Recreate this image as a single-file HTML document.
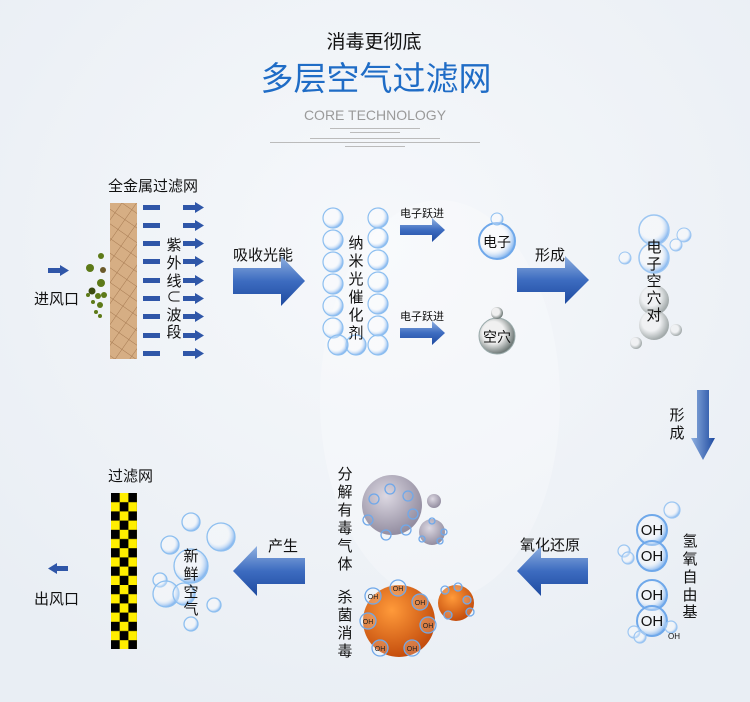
<!DOCTYPE html>
<html><head><meta charset="utf-8"><style>
body{margin:0;width:750px;height:702px;overflow:hidden;background:#eef2f7;}
svg{display:block}
text{font-family:"Liberation Sans","Noto Sans CJK SC",sans-serif;}
</style></head><body>
<svg width="750" height="702" viewBox="0 0 750 702" xmlns="http://www.w3.org/2000/svg">
<defs>
<radialGradient id="bg" cx="0.5" cy="0.35" r="0.7"><stop offset="0" stop-color="#f6f8fb"/><stop offset="1" stop-color="#e9eef4"/></radialGradient>
<linearGradient id="arr" x1="0" y1="0" x2="0" y2="1"><stop offset="0" stop-color="#8fb0e0"/><stop offset="0.5" stop-color="#3d6cc0"/><stop offset="1" stop-color="#1e4aa0"/></linearGradient>
<linearGradient id="arrv" x1="0" y1="0" x2="1" y2="0"><stop offset="0" stop-color="#8fb0e0"/><stop offset="1" stop-color="#1e4aa0"/></linearGradient>
<radialGradient id="bub" cx="0.4" cy="0.4" r="0.6"><stop offset="0.6" stop-color="#ffffff" stop-opacity="0.3"/><stop offset="1" stop-color="#7fb2ee" stop-opacity="0.9"/></radialGradient>
<radialGradient id="gray" cx="0.4" cy="0.35" r="0.7"><stop offset="0" stop-color="#dcd8e2"/><stop offset="1" stop-color="#8e889c"/></radialGradient>
<radialGradient id="org" cx="0.4" cy="0.35" r="0.7"><stop offset="0" stop-color="#ff9a3a"/><stop offset="1" stop-color="#c0480a"/></radialGradient>
<radialGradient id="gb" cx="0.4" cy="0.4" r="0.6"><stop offset="0.5" stop-color="#f0f0f0"/><stop offset="1" stop-color="#707a78"/></radialGradient>
<pattern id="grid" width="12" height="12" patternUnits="userSpaceOnUse" patternTransform="rotate(35)"><rect width="12" height="12" fill="#d6ae84"/><path d="M0 0H12M0 0V12" stroke="#a67a52" stroke-width="1"/></pattern>
<pattern id="chk" x="111" y="493" width="17.4" height="18.4" patternUnits="userSpaceOnUse"><rect width="17.4" height="18.4" fill="#ffee00"/><rect width="8.7" height="9.2" fill="#000"/><rect x="8.7" y="9.2" width="8.7" height="9.2" fill="#000"/></pattern>
<g id="b"><circle r="10" fill="url(#bub)" stroke="#8dbff0" stroke-width="1.2"/></g>
</defs>
<rect width="750" height="702" fill="url(#bg)"/>
<ellipse cx="440" cy="400" rx="120" ry="200" fill="#ffffff" opacity="0.25"/>

<text x="374" y="48" font-size="19" text-anchor="middle" fill="#111">消毒更彻底</text>
<text x="376" y="90" font-size="33" text-anchor="middle" fill="#1f6cc6">多层空气过滤网</text>
<text x="375" y="120" font-size="14" text-anchor="middle" fill="#9a9a9a">CORE TECHNOLOGY</text>
<g fill="#bbb"><rect x="330" y="128" width="90" height="1"/><rect x="350" y="132" width="50" height="1"/><rect x="310" y="138" width="130" height="1"/><rect x="270" y="142" width="210" height="1"/><rect x="345" y="146" width="60" height="1"/></g>

<text x="108" y="191" font-size="15" fill="#111">全金属过滤网</text>
<rect x="110" y="203" width="27" height="156" fill="url(#grid)"/>
<g fill="#2f56a8">
<rect x="143" y="205" width="17" height="5"/><rect x="143" y="223" width="17" height="5"/><rect x="143" y="241" width="17" height="5"/><rect x="143" y="259" width="17" height="5"/><rect x="143" y="278" width="17" height="5"/><rect x="143" y="296" width="17" height="5"/><rect x="143" y="314" width="17" height="5"/><rect x="143" y="333" width="17" height="5"/><rect x="143" y="351" width="17" height="5"/>
</g>
<g fill="#2f56a8" id="sa">
<path d="M183 205h12v-3l9 5.5-9 5.5v-3h-12z"/>
</g>
<use href="#sa" y="18"/><use href="#sa" y="36"/><use href="#sa" y="54"/><use href="#sa" y="73"/><use href="#sa" y="91"/><use href="#sa" y="109"/><use href="#sa" y="128"/><use href="#sa" y="146"/>
<g font-size="15" fill="#111" text-anchor="middle"><text x="174" y="250">紫</text><text x="174" y="268">外</text><text x="174" y="286">线</text><text x="174" y="302">⊂</text><text x="174" y="320">波</text><text x="174" y="337">段</text></g>
<path d="M48 268h12v-3l9 5.5-9 5.5v-3h-12z" fill="#2f56a8"/>
<text x="34" y="304" font-size="15" fill="#111">进风口</text>
<g fill="#5d7a18"><circle cx="90" cy="268" r="4"/><circle cx="101" cy="256" r="3"/><circle cx="103" cy="270" r="3" fill="#6b5a2a"/><circle cx="101" cy="283" r="4"/><circle cx="92" cy="291" r="3.5" fill="#3a4a10"/><circle cx="98" cy="296" r="3"/><circle cx="104" cy="295" r="3"/><circle cx="93" cy="302" r="2"/><circle cx="100" cy="305" r="3"/><circle cx="96" cy="312" r="2"/><circle cx="100" cy="316" r="2"/><circle cx="88" cy="295" r="2"/></g>

<text x="233" y="260" font-size="15" fill="#111">吸收光能</text>
<path d="M233 268h48v-12l24 25-24 25v-12h-48z" fill="url(#arr)"/>

<g>
<use href="#b" x="333" y="218"/><use href="#b" x="378" y="218"/>
<use href="#b" x="333" y="240"/><use href="#b" x="378" y="238"/>
<use href="#b" x="333" y="262"/><use href="#b" x="378" y="260"/>
<use href="#b" x="333" y="284"/><use href="#b" x="378" y="282"/>
<use href="#b" x="333" y="306"/><use href="#b" x="378" y="304"/>
<use href="#b" x="333" y="328"/><use href="#b" x="378" y="326"/>
<use href="#b" x="356" y="345"/><use href="#b" x="378" y="345"/><use href="#b" x="338" y="345"/>
</g>
<g font-size="15" fill="#111" text-anchor="middle"><text x="356" y="248">纳</text><text x="356" y="266">米</text><text x="356" y="284">光</text><text x="356" y="302">催</text><text x="356" y="320">化</text><text x="356" y="338">剂</text></g>

<text x="400" y="217" font-size="11" fill="#111">电子跃进</text>
<path d="M400 225h32v-7l13 12-13 12v-7h-32z" fill="url(#arr)"/>
<text x="400" y="320" font-size="11" fill="#111">电子跃进</text>
<path d="M400 328h32v-7l13 12-13 12v-7h-32z" fill="url(#arr)"/>
<circle cx="497" cy="241" r="18" fill="url(#bub)" stroke="#6fa8ea" stroke-width="2"/>
<circle cx="497" cy="219" r="6" fill="url(#bub)" stroke="#8dbff0"/>
<text x="497" y="247" font-size="14" text-anchor="middle" fill="#111">电子</text>
<circle cx="497" cy="336" r="18" fill="url(#gb)" stroke="#9aa" stroke-width="1"/>
<circle cx="497" cy="313" r="6" fill="url(#gb)"/>
<text x="497" y="342" font-size="14" text-anchor="middle" fill="#111">空穴</text>

<text x="535" y="260" font-size="15" fill="#111">形成</text>
<path d="M517 268h48v-12l24 24-24 24v-12h-48z" fill="url(#arr)"/>

<g>
<circle cx="654" cy="230" r="15" fill="url(#bub)" stroke="#9cc6f2" stroke-width="1.5"/>
<circle cx="654" cy="258" r="15" fill="url(#bub)" stroke="#9cc6f2" stroke-width="1.5"/>
<circle cx="654" cy="300" r="15" fill="url(#gb)" opacity="0.6"/>
<circle cx="654" cy="325" r="15" fill="url(#gb)" opacity="0.6"/>
<circle cx="684" cy="235" r="7" fill="url(#bub)" stroke="#9cc6f2"/><circle cx="676" cy="245" r="6" fill="url(#bub)" stroke="#9cc6f2"/>
<circle cx="625" cy="258" r="6" fill="url(#bub)" stroke="#9cc6f2"/>
<circle cx="676" cy="330" r="6" fill="url(#gb)" opacity="0.6"/><circle cx="636" cy="343" r="6" fill="url(#gb)" opacity="0.6"/>
</g>
<g font-size="15" fill="#111" text-anchor="middle"><text x="654" y="252">电</text><text x="654" y="269">子</text><text x="654" y="286">空</text><text x="654" y="303">穴</text><text x="654" y="320">对</text></g>

<text x="677" y="420" font-size="15" text-anchor="middle" fill="#111">形</text><text x="677" y="438" font-size="15" text-anchor="middle" fill="#111">成</text>
<path d="M697 390h12v48h6l-12 22-12-22h6z" fill="url(#arrv)"/>

<g fill="url(#bub)" stroke="#6fa8ea" stroke-width="2">
<circle cx="652" cy="530" r="15"/><circle cx="652" cy="556" r="15"/><circle cx="652" cy="595" r="15"/><circle cx="652" cy="621" r="15"/>
</g>
<g fill="url(#bub)" stroke="#9cc6f2" stroke-width="1.2"><circle cx="672" cy="510" r="8"/><circle cx="624" cy="551" r="6"/><circle cx="628" cy="558" r="6"/><circle cx="671" cy="627" r="6"/><circle cx="634" cy="632" r="6"/><circle cx="640" cy="637" r="6"/></g>
<g font-size="15" fill="#111" text-anchor="middle"><text x="652" y="535">OH</text><text x="652" y="561">OH</text><text x="652" y="600">OH</text><text x="652" y="626">OH</text><text x="674" y="639" font-size="8">OH</text></g>
<g font-size="15" fill="#111" text-anchor="middle"><text x="690" y="546">氢</text><text x="690" y="564">氧</text><text x="690" y="582">自</text><text x="690" y="600">由</text><text x="690" y="617">基</text></g>

<text x="520" y="550" font-size="15" fill="#111">氧化还原</text>
<path d="M588 558h-47v-12l-24 25 24 25v-12h47z" fill="url(#arr)"/>

<circle cx="392" cy="505" r="30" fill="url(#gray)"/>
<circle cx="434" cy="501" r="7" fill="url(#gray)"/>
<circle cx="432" cy="532" r="13" fill="url(#gray)"/>
<g fill="none" stroke="#6fa8ea" stroke-width="1.3"><circle cx="390" cy="489" r="5"/><circle cx="408" cy="496" r="5"/><circle cx="413" cy="514" r="5"/><circle cx="406" cy="530" r="5"/><circle cx="386" cy="535" r="5"/><circle cx="368" cy="520" r="5"/><circle cx="374" cy="499" r="5"/>
<circle cx="432" cy="521" r="3"/><circle cx="444" cy="532" r="3"/><circle cx="440" cy="541" r="3"/><circle cx="422" cy="539" r="3"/></g>
<circle cx="399" cy="621" r="36" fill="url(#org)"/>
<circle cx="456" cy="603" r="18" fill="url(#org)"/>
<g fill="#ffffff" fill-opacity="0.2" stroke="#6fa8ea" stroke-width="1.3"><circle cx="373" cy="596" r="8"/><circle cx="398" cy="588" r="8"/><circle cx="420" cy="602" r="8"/><circle cx="428" cy="625" r="8"/><circle cx="368" cy="621" r="8"/><circle cx="380" cy="648" r="8"/><circle cx="412" cy="648" r="8"/>
<circle cx="445" cy="590" r="4"/><circle cx="458" cy="587" r="4"/><circle cx="467" cy="600" r="4"/><circle cx="470" cy="612" r="4"/><circle cx="448" cy="615" r="4"/></g>
<g font-size="7" fill="#222" text-anchor="middle"><text x="373" y="599">OH</text><text x="398" y="591">OH</text><text x="420" y="605">OH</text><text x="428" y="628">OH</text><text x="368" y="624">OH</text><text x="380" y="651">OH</text><text x="412" y="651">OH</text></g>
<g font-size="15" fill="#111" text-anchor="middle"><text x="345" y="479">分</text><text x="345" y="497">解</text><text x="345" y="515">有</text><text x="345" y="533">毒</text><text x="345" y="551">气</text><text x="345" y="569">体</text>
<text x="345" y="602">杀</text><text x="345" y="620">菌</text><text x="345" y="638">消</text><text x="345" y="656">毒</text></g>

<text x="268" y="551" font-size="15" fill="#111">产生</text>
<path d="M305 558h-48v-12l-24 25 24 25v-12h48z" fill="url(#arr)"/>

<g fill="url(#bub)" stroke="#8dbff0" stroke-width="1.3">
<circle cx="191" cy="566" r="17"/><circle cx="191" cy="522" r="9"/><circle cx="221" cy="537" r="14"/><circle cx="170" cy="545" r="9"/><circle cx="160" cy="580" r="7"/><circle cx="166" cy="594" r="13"/><circle cx="184" cy="594" r="11"/><circle cx="214" cy="605" r="7"/><circle cx="191" cy="624" r="7"/>
</g>
<g font-size="15" fill="#111" text-anchor="middle"><text x="191" y="561">新</text><text x="191" y="579">鲜</text><text x="191" y="597">空</text><text x="191" y="614">气</text></g>

<text x="108" y="481" font-size="15" fill="#111">过滤网</text>
<rect x="111" y="493" width="26" height="156" fill="url(#chk)"/>
<path d="M68 566h-11v-3l-9 5.5 9 5.5v-3h11z" fill="#2f56a8"/>
<text x="34" y="604" font-size="15" fill="#111">出风口</text>
</svg>
</body></html>
